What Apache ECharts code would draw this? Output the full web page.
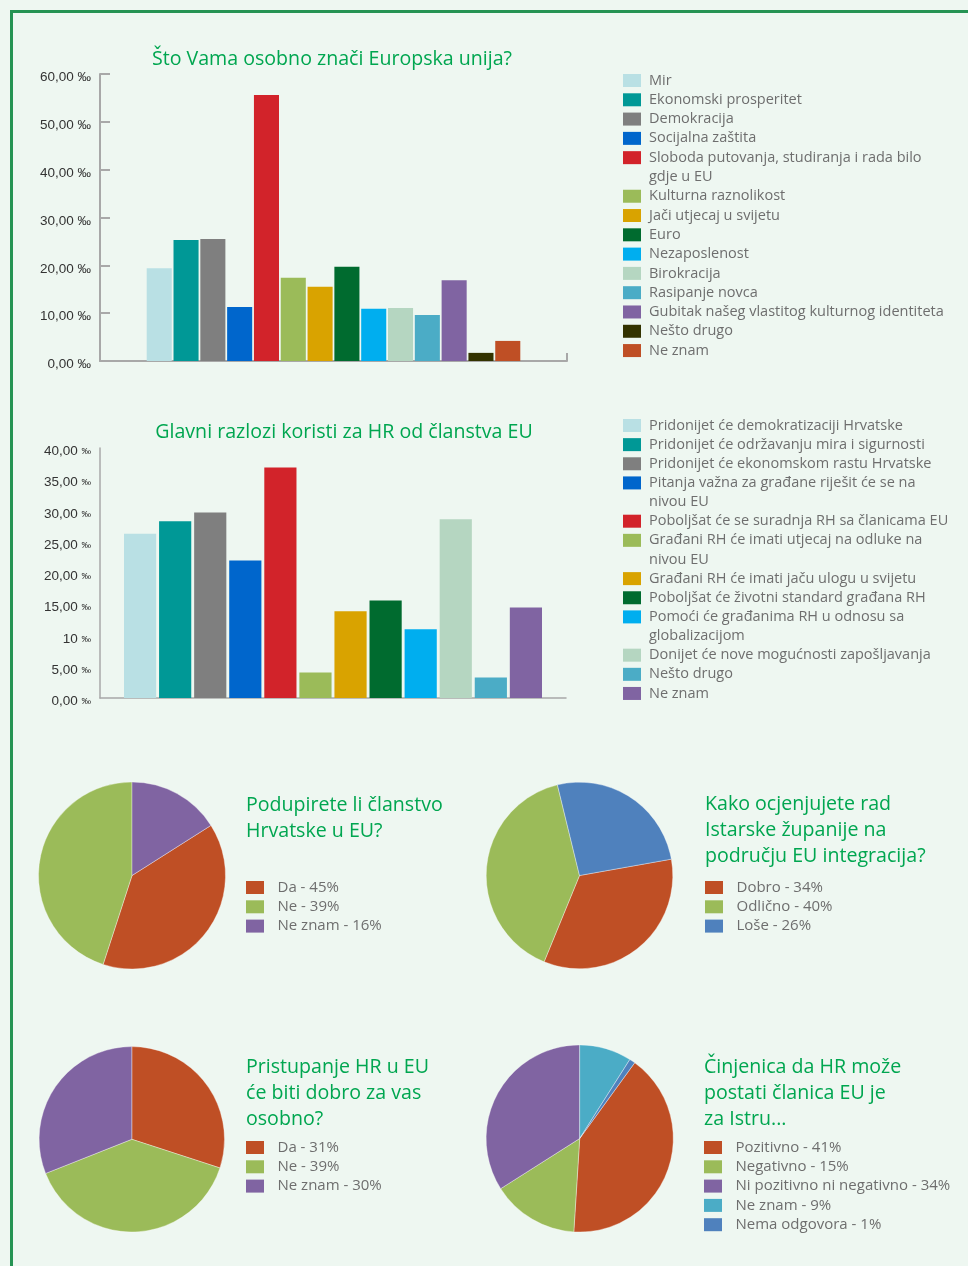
<!DOCTYPE html>
<html lang="hr">
<head>
<meta charset="utf-8">
<title>Europska unija - anketa</title>
<script src="https://cdn.jsdelivr.net/npm/echarts@6/dist/echarts.min.js"></script>
<style>
  html, body { margin: 0; padding: 0; }
  body { width: 968px; height: 1266px; background: #eef7f1; position: relative; overflow: hidden; }
  .frame { position: absolute; left: 10px; top: 10px; right: 0; bottom: 0; border-top: 3px solid #259353; border-left: 3px solid #259353; }
  .chart { position: absolute; left: 0; top: 0; width: 968px; height: 1266px; }
</style>
</head>
<body>
<div class="frame"></div>
<div id="bar1" class="chart"></div>
<div id="bar2" class="chart"></div>
<div id="pie1" class="chart"></div>
<div id="pie2" class="chart"></div>
<div id="pie3" class="chart"></div>
<div id="pie4" class="chart"></div>
<script>
// Što Vama osobno znači Europska unija? (promili)
const bar1Names = ['Mir', 'Ekonomski prosperitet', 'Demokracija', 'Socijalna zaštita',
  'Sloboda putovanja, studiranja i rada bilo\ngdje u EU', 'Kulturna raznolikost', 'Jači utjecaj u svijetu',
  'Euro', 'Nezaposlenost', 'Birokracija', 'Rasipanje novca', 'Gubitak našeg vlastitog kulturnog identiteta',
  'Nešto drugo', 'Ne znam']
const bar1Values = [19.4, 25.3, 25.5, 11.3, 55.6, 17.4, 15.5, 19.7, 10.9, 11.1, 9.6, 16.9, 1.7, 4.2]
const bar1Colors = ['#b9e0e4', '#009896', '#7f7f7f', '#0066cc', '#d2232a', '#9bbb59', '#d9a300',
  '#006b2f', '#00aeef', '#b5d6c1', '#4bacc6', '#8064a2', '#333300', '#bf4f25']
const bar1Ticks = ['0,00', '10,00', '20,00', '30,00', '40,00', '50,00', '60,00']

// Glavni razlozi koristi za HR od članstva EU (promili)
const bar2Names = ['Pridonijet će demokratizaciji Hrvatske', 'Pridonijet će održavanju mira i sigurnosti',
  'Pridonijet će ekonomskom rastu Hrvatske', 'Pitanja važna za građane riješit će se na\nnivou EU',
  'Poboljšat će se suradnja RH sa članicama EU', 'Građani RH će imati utjecaj na odluke na\nnivou EU',
  'Građani RH će imati jaču ulogu u svijetu', 'Poboljšat će životni standard građana RH',
  'Pomoći će građanima RH u odnosu sa\nglobalizacijom', 'Donijet će nove mogućnosti zapošljavanja',
  'Nešto drugo', 'Ne znam']
const bar2Values = [26.3, 28.3, 29.7, 22.0, 36.9, 4.1, 13.9, 15.6, 11.0, 28.6, 3.3, 14.5]
const bar2Colors = ['#b9e0e4', '#009896', '#7f7f7f', '#0066cc', '#d2232a', '#9bbb59', '#d9a300',
  '#006b2f', '#00aeef', '#b5d6c1', '#4bacc6', '#8064a2']
const bar2Ticks = ['0,00', '5,00', '10', '15,00', '20,00', '25,00', '30,00', '35,00', '40,00']

// pite - kriške kako su nacrtane (postoci)
const pie1Names = ['Da - 45%', 'Ne - 39%', 'Ne znam - 16%']
const pie1Values = [39, 45, 16]
const pie1Colors = ['#bf4f25', '#9bbb59', '#8064a2']

const pie2Names = ['Dobro - 34%', 'Odlično - 40%', 'Loše - 26%']
const pie2Values = [34, 40, 26]
const pie2Colors = ['#bf4f25', '#9bbb59', '#4f81bd']

const pie3Names = ['Da - 31%', 'Ne - 39%', 'Ne znam - 30%']
const pie3Values = [30, 39, 31]
const pie3Colors = ['#bf4f25', '#9bbb59', '#8064a2']

const pie4Names = ['Pozitivno - 41%', 'Negativno - 15%', 'Ni pozitivno ni negativno - 34%', 'Ne znam - 9%', 'Nema odgovora - 1%']
const pie4Values = [41, 15, 34, 9, 1]
const pie4Colors = ['#bf4f25', '#9bbb59', '#8064a2', '#4bacc6', '#4f81bd']

const GREEN = '#00a650'
const LEGEND_GRAY = '#6e6e6e'
const TEXT_FONT = 'Open Sans'

function mount(id, option) {
  const chart = echarts.init(document.getElementById(id), null, { renderer: 'canvas' })
  chart.setOption(option)
  return chart
}

// legenda se lomi na više komada kad naziv ima drugi red (ikona ostaje uz prvi red)
function splitLegend(names, left, firstRow, rowH, padLeft, fontSize) {
  const legends = []
  const texts = []
  let row = 0
  let chunk = []
  let chunkRow = 0
  const push = () => {
    legends.push({
      orient: 'vertical',
      left: left,
      top: firstRow + chunkRow * rowH - 9,
      padding: 0,
      itemWidth: 18,
      itemHeight: 13,
      itemGap: rowH - 19,
      icon: 'rect',
      data: chunk,
      formatter: n => n.split('\n')[0],
      itemStyle: { borderWidth: 0 },
      textStyle: { color: LEGEND_GRAY, fontFamily: TEXT_FONT, fontSize: fontSize, lineHeight: 19, padding: [0, 0, 0, padLeft] }
    })
    chunk = []
  }
  names.forEach(n => {
    if (!chunk.length) chunkRow = row
    chunk.push(n)
    row++
    const parts = n.split('\n')
    if (parts.length > 1) {
      push()
      texts.push({
        type: 'text',
        x: left + 18 + 5 + padLeft,
        y: firstRow + row * rowH + 0.5,
        silent: true,
        style: { text: parts[1], fill: LEGEND_GRAY, font: fontSize + 'px ' + TEXT_FONT, verticalAlign: 'middle', textVerticalAlign: 'middle' }
      })
      row++
    }
  })
  if (chunk.length) push()
  return { legends, texts }
}

function titleText(text, x, y, center) {
  return {
    type: 'text',
    x: x,
    y: y,
    silent: true,
    style: {
      text: text,
      fill: GREEN,
      font: '19.6px ' + TEXT_FONT,
      lineHeight: 26,
      align: center ? 'center' : 'left',
      textAlign: center ? 'center' : 'left',
      verticalAlign: center ? 'middle' : 'top',
      textVerticalAlign: center ? 'middle' : 'top'
    }
  }
}

function barOption(cfg) {
  const lg = splitLegend(cfg.names, 623, cfg.legendTop, cfg.rowH, 3, 14.5)
  return {
    animation: false,
    tooltip: { trigger: 'item' },
    graphic: [titleText(cfg.title, cfg.titleX, cfg.titleY, true)].concat(lg.texts),
    legend: lg.legends,
    grid: cfg.grid,
    xAxis: {
      type: 'category',
      data: [''],
      axisLine: { lineStyle: { color: '#a8a8a8', width: cfg.lineW } },
      axisTick: { show: cfg.ticks, inside: true, length: 8, lineStyle: { color: '#a8a8a8', width: cfg.lineW } },
      axisLabel: { show: false },
      splitLine: { show: false }
    },
    yAxis: {
      type: 'value',
      min: 0,
      max: cfg.max,
      interval: cfg.interval,
      axisLine: { show: true, lineStyle: { color: '#a8a8a8', width: cfg.lineW } },
      axisTick: { show: cfg.ticks, inside: true, length: 10, lineStyle: { color: '#a8a8a8', width: cfg.lineW } },
      splitLine: { show: false },
      axisLabel: {
        margin: 9,
        padding: [7, 0, 0, 0],
        color: '#333',
        fontFamily: 'Liberation Sans',
        fontSize: 13.5,
        formatter: v => {
          const t = cfg.ticks_[Math.round(v / cfg.interval)]
          return cfg.smallUnit ? '{n|' + t + '} {p|‰}' : t + ' ‰'
        },
        rich: {
          n: { color: '#333', fontFamily: 'Liberation Sans', fontSize: 13.5 },
          p: { color: '#333', fontFamily: 'Liberation Sans', fontSize: 9.5 }
        }
      }
    },
    series: cfg.names.map((n, i) => ({
      type: 'bar',
      name: n,
      data: [cfg.values[i]],
      itemStyle: { color: cfg.colors[i] },
      barGap: cfg.barGap,
      barCategoryGap: cfg.barCategoryGap,
      emphasis: { disabled: true }
    }))
  }
}

function pieOption(cfg) {
  return {
    animation: false,
    tooltip: { trigger: 'item' },
    graphic: [titleText(cfg.title, cfg.titleX, cfg.titleY, false)],
    legend: {
      orient: 'vertical',
      left: cfg.titleX,
      top: cfg.legendTop - 9,
      padding: 0,
      itemWidth: 18,
      itemHeight: 13,
      itemGap: 0.3,
      icon: 'rect',
      itemStyle: { borderWidth: 0 },
      textStyle: { color: LEGEND_GRAY, fontFamily: TEXT_FONT, fontSize: 15, lineHeight: 19, padding: [0, 0, 0, 8.5] }
    },
    series: [{
      type: 'pie',
      center: cfg.center,
      radius: cfg.radius,
      startAngle: cfg.startAngle,
      clockwise: true,
      label: { show: false },
      labelLine: { show: false },
      emphasis: { disabled: true },
      itemStyle: { borderColor: 'rgba(255,255,255,0.6)', borderWidth: 0.6 },
      data: cfg.names.map((n, i) => ({ name: n, value: cfg.values[i], itemStyle: { color: cfg.colors[i] } }))
    }]
  }
}

const charts = [
  mount('bar1', barOption({
    title: 'Što Vama osobno znači Europska unija?', titleX: 332, titleY: 59,
    names: bar1Names, values: bar1Values, colors: bar1Colors, ticks_: bar1Ticks,
    max: 60, interval: 10, smallUnit: false, ticks: true, lineW: 2,
    grid: { left: 100, top: 74, width: 467, height: 287 },
    barGap: '7%', barCategoryGap: '20%',
    legendTop: 80, rowH: 19.29
  })),
  mount('bar2', barOption({
    title: 'Glavni razlozi koristi za HR od članstva EU', titleX: 344, titleY: 432,
    names: bar2Names, values: bar2Values, colors: bar2Colors, ticks_: bar2Ticks,
    max: 40, interval: 5, smallUnit: true, ticks: false, lineW: 1.5,
    grid: { left: 100, top: 448, width: 466, height: 250 },
    barGap: '9%', barCategoryGap: '10.3%',
    legendTop: 425, rowH: 19.14
  })),
  mount('pie1', pieOption({
    title: 'Podupirete li članstvo\nHrvatske u EU?', titleX: 246, titleY: 792,
    names: pie1Names, values: pie1Values, colors: pie1Colors,
    center: [132, 875.5], radius: 93.5, startAngle: 32.4, legendTop: 887
  })),
  mount('pie2', pieOption({
    title: 'Kako ocjenjujete rad\nIstarske županije na\npodručju EU integracija?', titleX: 705, titleY: 791,
    names: pie2Names, values: pie2Values, colors: pie2Colors,
    center: [579.5, 875.5], radius: 93.3, startAngle: 10.1, legendTop: 887
  })),
  mount('pie3', pieOption({
    title: 'Pristupanje HR u EU\nće biti dobro za vas\nosobno?', titleX: 246, titleY: 1054,
    names: pie3Names, values: pie3Values, colors: pie3Colors,
    center: [131.8, 1139.3], radius: 92.7, startAngle: 90, legendTop: 1147
  })),
  mount('pie4', pieOption({
    title: 'Činjenica da HR može\npostati članica EU je\nza Istru...', titleX: 704, titleY: 1054,
    names: pie4Names, values: pie4Values, colors: pie4Colors,
    center: [579.7, 1138.5], radius: 93.6, startAngle: 54, legendTop: 1147
  }))
]

window.addEventListener('resize', () => charts.forEach(c => c.resize()))
</script>
</body>
</html>
